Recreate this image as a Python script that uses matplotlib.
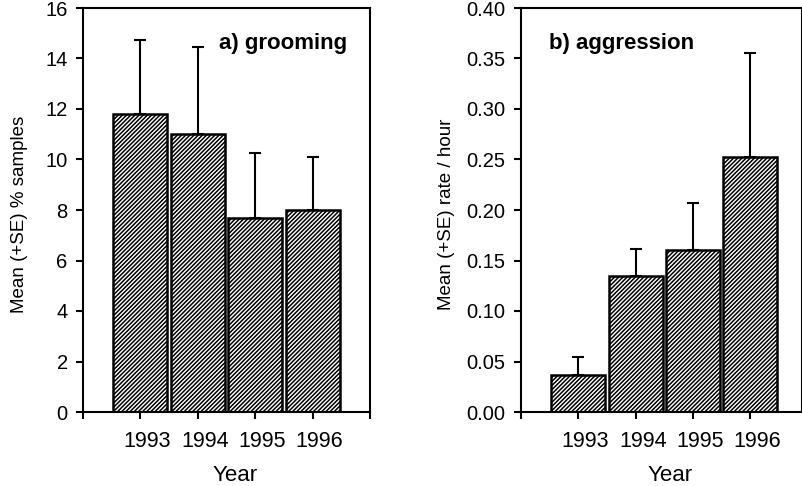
import numpy as np
import matplotlib.pyplot as plt
from matplotlib.transforms import ScaledTranslation

# data
years = ['1993', '1994', '1995', '1996']
groom_mean = [11.8, 11.0, 7.7, 8.0]
groom_se = [2.95, 3.45, 2.55, 2.1]
aggr_mean = [0.037, 0.135, 0.160, 0.252]
aggr_se = [0.017, 0.026, 0.047, 0.103]

plt.rcParams['font.family'] = ['Liberation Sans', 'DejaVu Sans']
plt.rcParams['hatch.linewidth'] = 1.1
plt.rcParams['hatch.color'] = 'black'

fig = plt.figure(figsize=(8.02, 4.86), dpi=100)

W, H = 802.0, 486.0
ax1 = fig.add_axes([83/W, (H-412)/H, 287/W, 404/H])
ax2 = fig.add_axes([521/W, (H-412)/H, 281/W, 404/H])

def draw_panel(ax, means, ses, ymax, yticks, ytickfmt, ylabel, title, title_x, xmax, ylab_x):
    xpos = np.arange(1, len(years) + 1)
    ax.bar(xpos, means, width=0.94, color='white', edgecolor='black',
           linewidth=1.8, hatch='////////', zorder=2)
    ax.errorbar(xpos, means, yerr=[np.zeros(len(ses)), ses], fmt='none',
                ecolor='black', elinewidth=1.5, capsize=4.3, capthick=1.5, zorder=1)
    ax.set_xlim(0, xmax)
    ax.set_ylim(0, ymax)
    ax.set_xticks(range(0, int(np.floor(xmax)) + 1))
    ax.set_xticklabels([''] + years + [''] * (int(np.floor(xmax)) - len(years)))
    ax.set_yticks(yticks)
    ax.set_yticklabels([ytickfmt.format(v) for v in yticks])
    for s in ax.spines.values():
        s.set_linewidth(1.5)
    ax.tick_params(axis='x', direction='out', length=5, width=1.5, labelsize=15.5, pad=9)
    ax.tick_params(axis='y', direction='out', length=5, width=1.5, labelsize=14.5, pad=6)
    offset = ScaledTranslation(7/100, 0, fig.dpi_scale_trans)
    for lab in ax.get_xticklabels():
        lab.set_transform(lab.get_transform() + offset)
    ax.set_xlabel('Year', fontsize=16)
    ax.xaxis.set_label_coords(0.53, -0.13)
    ax.set_ylabel(ylabel, fontsize=13.5)
    ax.yaxis.set_label_coords(ylab_x, 0.49)
    ax.text(title_x, 0.913, title, transform=ax.transAxes, fontsize=16,
            fontweight='bold', ha='left', va='center')

draw_panel(ax1, groom_mean, groom_se, 16, np.arange(0, 17, 2), '{:.0f}',
           'Mean (+SE) % samples', 'a) grooming', 0.474, 5, -0.19)
draw_panel(ax2, aggr_mean, aggr_se, 0.40, np.arange(0, 0.41, 0.05), '{:.2f}',
           'Mean (+SE) rate / hour', 'b) aggression', 0.1, 4.9, -0.235)

fig.savefig('out.png', dpi=100)
